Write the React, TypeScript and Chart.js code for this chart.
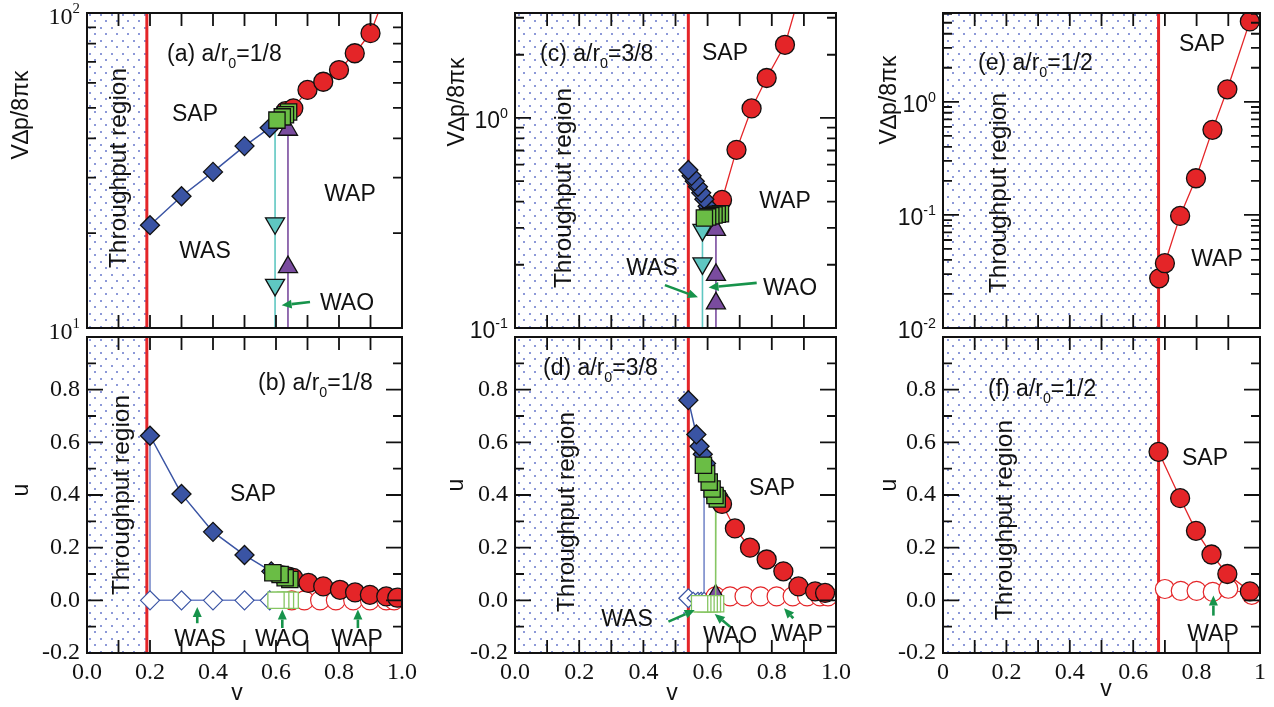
import React, { useEffect, useRef } from 'react';
import { Chart, registerables } from 'chart.js';

Chart.register(...registerables);

// ---------------- Data ----------------
// Panel (a)  a/r0 = 1/8, VΔp/8πκ (log)
const A_SAS_V = [0.2, 0.3, 0.4, 0.5, 0.58];
const A_SAS_Y = [21.2, 26.2, 31.3, 37.8, 43.2];
const A_SAO_V = [0.64, 0.63, 0.62, 0.603];
const A_SAO_Y = [48.5, 47.5, 46.8, 45.7];
const A_SAP_V = [0.63, 0.655, 0.7, 0.75, 0.8, 0.85, 0.9, 0.95];
const A_SAP_Y = [48.8, 49.8, 57.0, 60.5, 65.9, 74.5, 86.3, 117];
const A_WAS_V = [0.597, 0.597, 0.597, 0.597];
const A_WAS_Y = [45.0, 21.5, 13.7, 5];
const A_WAO_V = [0.638, 0.638, 0.638];
const A_WAO_Y = [42.6, 15.6, 5];

// Panel (b)  a/r0 = 1/8, u
const B_SAS_V = [0.2, 0.3, 0.4, 0.5, 0.585];
const B_SAS_U = [0.625, 0.404, 0.26, 0.172, 0.11];
const B_WAS_V = [0.2, 0.2, 0.3, 0.4, 0.5, 0.58];
const B_WAS_U = [0.625, 0, 0, 0, 0, 0];
const B_SAO_V = [0.644, 0.629, 0.613, 0.59];
const B_SAO_U = [0.079, 0.086, 0.098, 0.105];
const B_WAO_V = [0.645, 0.63, 0.615, 0.6];
const B_WAO_U = [0, 0, 0, 0];
const B_SAP_V = [0.62, 0.64, 0.655, 0.703, 0.75, 0.803, 0.851, 0.898, 0.95, 0.985];
const B_SAP_U = [0.095, 0.09, 0.085, 0.066, 0.053, 0.04, 0.03, 0.021, 0.015, 0.01];
const B_WAP_V = [0.65, 0.69, 0.74, 0.79, 0.845, 0.898, 0.95, 0.975];
const B_WAP_U = [0, 0, 0, 0, 0, 0, 0, 0];

// Panel (c)  a/r0 = 3/8, VΔp/8πκ (log)
const C_SAS_V = [0.6, 0.59, 0.58, 0.57, 0.56, 0.55, 0.54];
const C_SAS_Y = [0.38, 0.41, 0.44, 0.47, 0.5, 0.53, 0.565];
const C_SAO_V = [0.64, 0.63, 0.62, 0.61, 0.6, 0.59];
const C_SAO_Y = [0.35, 0.348, 0.345, 0.342, 0.338, 0.334];
const C_SAP_V = [0.62, 0.63, 0.645, 0.69, 0.737, 0.784, 0.841, 0.885];
const C_SAP_Y = [0.345, 0.35, 0.407, 0.705, 1.11, 1.55, 2.23, 3.8];
const C_WAS_V = [0.584, 0.584, 0.584];
const C_WAS_Y = [0.293, 0.203, 0.05];
const C_WAO_V = [0.626, 0.626, 0.626, 0.626];
const C_WAO_Y = [0.293, 0.179, 0.131, 0.05];

// Panel (d)  a/r0 = 3/8, u
const D_SAS_V = [0.595, 0.585, 0.575, 0.565, 0.54];
const D_SAS_U = [0.52, 0.555, 0.585, 0.63, 0.76];
const D_WAS_V = [0.54, 0.555, 0.57, 0.58, 0.589, 0.589];
const D_WAS_U = [0.008, 0.008, 0.008, 0.008, 0.008, 0.53];
const D_SAO_V = [0.63, 0.623, 0.614, 0.605, 0.597, 0.587];
const D_SAO_U = [0.385, 0.398, 0.423, 0.449, 0.481, 0.513];
const D_WAO_V = [0.626, 0.625, 0.615, 0.605, 0.595, 0.585, 0.575];
const D_WAO_U = [0.385, -0.013, -0.013, -0.013, -0.013, -0.013, -0.013];
const D_WAOT_V = [0.625];
const D_WAOT_U = [0.03];
const D_SAP_V = [0.625, 0.635, 0.645, 0.685, 0.732, 0.784, 0.836, 0.883, 0.935, 0.966];
const D_SAP_U = [0.4, 0.385, 0.366, 0.273, 0.2, 0.155, 0.11, 0.053, 0.034, 0.028];
const D_WAP_V = [0.625, 0.67, 0.715, 0.765, 0.815, 0.865, 0.91, 0.95, 0.975];
const D_WAP_U = [0.015, 0.015, 0.015, 0.015, 0.015, 0.015, 0.015, 0.015, 0.015];

// Panel (e)  a/r0 = 1/2, VΔp/8πκ (log)
const E_SAP_V = [0.682, 0.7, 0.748, 0.798, 0.85, 0.897, 0.968];
const E_SAP_Y = [0.0275, 0.0374, 0.098, 0.211, 0.565, 1.29, 5.14];

// Panel (f)  a/r0 = 1/2, u
const F_SAP_V = [0.68, 0.748, 0.798, 0.847, 0.897, 0.968];
const F_SAP_U = [0.564, 0.388, 0.264, 0.174, 0.1, 0.034];
const F_WAP_V = [0.7, 0.75, 0.8, 0.851, 0.9, 0.974];
const F_WAP_U = [0.043, 0.036, 0.036, 0.032, 0.044, 0.021];

// Throughput-region boundaries
const VC_AB = 0.19;
const VC_CD = 0.54;
const VC_EF = 0.68;

// Tick labels
const X_TICK_VALUES = [0, 0.2, 0.4, 0.6, 0.8, 1.0];
const X_TICK_LABELS_BD = ['0.0', '0.2', '0.4', '0.6', '0.8', '1.0'];
const X_TICK_LABELS_F = ['0', '0.2', '0.4', '0.6', '0.8', '1'];
const U_TICK_VALUES = [-0.2, 0, 0.2, 0.4, 0.6, 0.8];
const U_TICK_LABELS = ['-0.2', '0.0', '0.2', '0.4', '0.6', '0.8'];
const A_LOG_TICKS = [10, 100];
const A_LOG_EXP = ['1', '2'];
const C_LOG_TICKS = [0.1, 1];
const C_LOG_EXP = ['-1', '0'];
const E_LOG_TICKS = [0.01, 0.1, 1];
const E_LOG_EXP = ['-2', '-1', '0'];

// ---------------- Styles ----------------
const W = 1274;
const H = 707;
const RED = '#E42528';
const BLUE = '#3A54A4';
const GREEN = '#6ABD45';
const GREEN_OPEN = '#86C663';
const CYAN = '#5FC7C2';
const PURPLE = '#7A4C9F';
const ARROW = '#17934B';
const DOT = '#7A88D2';
const INK = '#111';
const SANS = '"Liberation Sans", Arial, sans-serif';
const SERIF = '"Liberation Serif", "Times New Roman", serif';
const TXT = 23;
const TXT_ROT = 24.5;
const TICK_FONT = 24;
const R_CIRC = 9.5;
const R_DIAM = 9.5;
const R_SQ = 11.5;
const R_TRI = 11;

type Part = { t: string; sub?: boolean; sup?: boolean };
type Txt = { parts: Part[]; dx: number; dy: number; align?: 'left' | 'center'; rot?: boolean };
type Arw = [number, number, number, number];
type PanelDef = {
  rect: [number, number, number, number];
  log: boolean;
  ymin: number;
  ymax: number;
  vc: number;
  datasets: any[];
  xLabels?: string[];
  yVals: number[];
  yLabels?: string[];
  yExp?: string[];
  logFamily?: string;
  yTitle: { text: string; x: number; y: number };
  xTitle?: { x: number; y: number };
  texts: Txt[];
  arrows: Arw[];
};

const pt = (v: number[], y: number[]) => v.map((x, i) => ({ x, y: y[i] }));

function ds(v: number[], y: number[], o: any) {
  return {
    data: pt(v, y),
    showLine: !!o.line,
    borderColor: o.line || 'rgba(0,0,0,0)',
    borderWidth: o.lw ?? 1.5,
    pointStyle: o.style || 'circle',
    pointRadius: o.radius ?? 0,
    pointHoverRadius: o.radius ?? 0,
    pointRotation: o.rot ?? 0,
    pointBackgroundColor: o.fill || 'rgba(0,0,0,0)',
    pointBorderColor: o.stroke || INK,
    pointBorderWidth: o.sw ?? 1.3,
    tension: 0,
  };
}

const redLine = (vc: number, lo: number, hi: number) =>
  ds([vc, vc], [lo, hi], { line: RED, lw: 3, radius: 0 });

const sasFilled = (v: number[], y: number[]) =>
  ds(v, y, { style: 'rectRot', radius: R_DIAM, fill: BLUE, stroke: INK, line: BLUE, lw: 1.5 });
const sasOpen = (v: number[], y: number[], r: number[]) =>
  ds(v, y, { style: 'rectRot', radius: r, fill: '#fff', stroke: BLUE, sw: 1.2, line: '#6F82C6', lw: 1.5 });
const saoFilled = (v: number[], y: number[]) =>
  ds(v, y, { style: 'rect', radius: R_SQ, fill: GREEN, stroke: INK });
const saoOpen = (v: number[], y: number[], r: number | number[]) =>
  ds(v, y, { style: 'rect', radius: r, fill: '#fff', stroke: GREEN_OPEN, sw: 1.3, line: GREEN_OPEN, lw: 1.5 });
const sapFilled = (v: number[], y: number[]) =>
  ds(v, y, { style: 'circle', radius: R_CIRC, fill: RED, stroke: INK, line: RED, lw: 1.3 });
const sapOpen = (v: number[], y: number[]) =>
  ds(v, y, { style: 'circle', radius: R_CIRC, fill: '#fff', stroke: RED, sw: 1.2, line: RED, lw: 1 });
const wasTri = (v: number[], y: number[], r: number[]) =>
  ds(v, y, { style: 'triangle', rot: 180, radius: r, fill: CYAN, stroke: INK, line: CYAN, lw: 1.6 });
const waoTri = (v: number[], y: number[], r: number[]) =>
  ds(v, y, { style: 'triangle', radius: r, fill: PURPLE, stroke: INK, line: PURPLE, lw: 1.6 });

const title = (letter: string, frac: string): Part[] => [
  { t: `(${letter}) a/r` },
  { t: '0', sub: true },
  { t: `=${frac}` },
];
const T = (s: string, dx: number, dy: number): Txt => ({ parts: [{ t: s }], dx, dy, align: 'center' });
const TR = (dx: number, dy: number): Txt => ({ parts: [{ t: 'Throughput region' }], dx, dy, align: 'center', rot: true });

const PANELS: PanelDef[] = [
  {
    rect: [87, 13, 402, 328], log: true, ymin: 10, ymax: 100, vc: VC_AB,
    datasets: [
      redLine(VC_AB, 5, 200),
      waoTri(A_WAO_V, A_WAO_Y, [R_TRI, R_TRI, 0]),
      wasTri(A_WAS_V, A_WAS_Y, [0, R_TRI, R_TRI, 0]),
      sapFilled(A_SAP_V, A_SAP_Y),
      sasFilled(A_SAS_V, A_SAS_Y),
      saoFilled(A_SAO_V, A_SAO_Y),
    ],
    yVals: A_LOG_TICKS, yExp: A_LOG_EXP, logFamily: SERIF,
    yTitle: { text: 'V\u2206p/8\u03C0\u03BA', x: 20, y: 115 },
    texts: [
      { parts: title('a', '1/8'), dx: 80, dy: 40 },
      T('SAP', 108, 100), T('WAP', 263, 180), T('WAS', 118, 237), T('WAO', 260, 289),
      TR(30, 155),
    ],
    arrows: [[0.708, 12.1, 0.618, 11.8]],
  },
  {
    rect: [87, 337, 402, 653], log: false, ymin: -0.2, ymax: 1.0, vc: VC_AB,
    datasets: [
      redLine(VC_AB, -0.5, 1.5),
      sasOpen(B_WAS_V, B_WAS_U, [0, R_DIAM, R_DIAM, R_DIAM, R_DIAM, R_DIAM]),
      sapOpen(B_WAP_V, B_WAP_U),
      saoOpen(B_WAO_V, B_WAO_U, R_SQ),
      sapFilled(B_SAP_V, B_SAP_U),
      sasFilled(B_SAS_V, B_SAS_U),
      saoFilled(B_SAO_V, B_SAO_U),
    ],
    xLabels: X_TICK_LABELS_BD,
    yVals: U_TICK_VALUES, yLabels: U_TICK_LABELS,
    yTitle: { text: 'u', x: 20, y: 490 },
    xTitle: { x: 237, y: 692 },
    texts: [
      { parts: title('b', '1/8'), dx: 171, dy: 45 },
      T('SAP', 166, 156), T('WAS', 113, 301), T('WAO', 195, 301), T('WAP', 270, 301),
      TR(33, 158),
    ],
    arrows: [[0.35, -0.087, 0.35, -0.025], [0.62, -0.105, 0.62, -0.035], [0.86, -0.105, 0.86, -0.035]],
  },
  {
    rect: [515, 13, 836, 328], log: true, ymin: 0.1, ymax: 3.16, vc: VC_CD,
    datasets: [
      redLine(VC_CD, 0.01, 10),
      waoTri(C_WAO_V, C_WAO_Y, [R_TRI, R_TRI, R_TRI, 0]),
      wasTri(C_WAS_V, C_WAS_Y, [R_TRI, R_TRI, 0]),
      sapFilled(C_SAP_V, C_SAP_Y),
      sasFilled(C_SAS_V, C_SAS_Y),
      saoFilled(C_SAO_V, C_SAO_Y),
    ],
    yVals: C_LOG_TICKS, yExp: C_LOG_EXP, logFamily: SANS,
    yTitle: { text: 'V\u2206p/8\u03C0\u03BA', x: 456, y: 102 },
    texts: [
      { parts: title('c', '3/8'), dx: 25, dy: 40 },
      T('SAP', 210, 39), T('WAP', 270, 187), T('WAS', 137, 254), T('WAO', 275, 274),
      TR(47, 175),
    ],
    arrows: [[0.467, 0.16, 0.57, 0.14], [0.753, 0.164, 0.603, 0.156]],
  },
  {
    rect: [515, 337, 836, 653], log: false, ymin: -0.2, ymax: 1.0, vc: VC_CD,
    datasets: [
      redLine(VC_CD, -0.5, 1.5),
      sasOpen(D_WAS_V, D_WAS_U, [R_DIAM, 6, 6, 6, 6, 0]),
      sapOpen(D_WAP_V, D_WAP_U),
      waoTri(D_WAOT_V, D_WAOT_U, [8]),
      saoOpen(D_WAO_V, D_WAO_U, [0, R_SQ, R_SQ, R_SQ, R_SQ, R_SQ, R_SQ]),
      sapFilled(D_SAP_V, D_SAP_U),
      sasFilled(D_SAS_V, D_SAS_U),
      saoFilled(D_SAO_V, D_SAO_U),
    ],
    xLabels: X_TICK_LABELS_BD,
    yVals: U_TICK_VALUES, yLabels: U_TICK_LABELS,
    yTitle: { text: 'u', x: 455, y: 485 },
    xTitle: { x: 672, y: 692 },
    texts: [
      { parts: title('d', '3/8'), dx: 28, dy: 30 },
      T('SAP', 257, 150), T('WAS', 112, 281), T('WAO', 215, 298), T('WAP', 282, 296),
      TR(50, 175),
    ],
    arrows: [[0.478, -0.081, 0.56, -0.037], [0.67, -0.1, 0.622, -0.052], [0.867, -0.068, 0.838, -0.03]],
  },
  {
    rect: [943, 13, 1260, 328], log: true, ymin: 0.01, ymax: 6.1, vc: VC_EF,
    datasets: [
      redLine(VC_EF, 0.001, 100),
      sapFilled(E_SAP_V, E_SAP_Y),
    ],
    yVals: E_LOG_TICKS, yExp: E_LOG_EXP, logFamily: SANS,
    yTitle: { text: 'V\u2206p/8\u03C0\u03BA', x: 888, y: 100 },
    texts: [
      { parts: title('e', '1/2'), dx: 35, dy: 49 },
      T('SAP', 259, 30), T('WAP', 274, 245),
      TR(54, 180),
    ],
    arrows: [],
  },
  {
    rect: [943, 337, 1260, 653], log: false, ymin: -0.2, ymax: 1.0, vc: VC_EF,
    datasets: [
      redLine(VC_EF, -0.5, 1.5),
      sapOpen(F_WAP_V, F_WAP_U),
      sapFilled(F_SAP_V, F_SAP_U),
    ],
    xLabels: X_TICK_LABELS_F,
    yVals: U_TICK_VALUES, yLabels: U_TICK_LABELS,
    yTitle: { text: 'u', x: 888, y: 485 },
    xTitle: { x: 1106, y: 688 },
    texts: [
      { parts: title('f', '1/2'), dx: 45, dy: 51 },
      T('SAP', 262, 120), T('WAP', 270, 296),
      TR(60, 183),
    ],
    arrows: [[0.853, -0.058, 0.853, 0.018]],
  },
];

// ---------------- Drawing helpers ----------------
function drawRich(ctx: CanvasRenderingContext2D, parts: Part[], x: number, yMid: number, size: number, family: string, align: 'left' | 'center' | 'right') {
  const small = size * 0.62;
  const widths = parts.map((p) => {
    ctx.font = `${p.sub || p.sup ? small : size}px ${family}`;
    return ctx.measureText(p.t).width;
  });
  const total = widths.reduce((a, b) => a + b, 0);
  let cx = align === 'center' ? x - total / 2 : align === 'right' ? x - total : x;
  const base = yMid + size * 0.36;
  ctx.textAlign = 'left';
  ctx.textBaseline = 'alphabetic';
  parts.forEach((p, i) => {
    ctx.font = `${p.sub || p.sup ? small : size}px ${family}`;
    const dy = p.sub ? size * 0.3 : p.sup ? -size * 0.45 : 0;
    ctx.fillText(p.t, cx, base + dy);
    cx += widths[i];
  });
}

function drawArrow(ctx: CanvasRenderingContext2D, x1: number, y1: number, x2: number, y2: number) {
  const ang = Math.atan2(y2 - y1, x2 - x1);
  const hl = 10;
  const hw = 4.5;
  const bx = x2 - hl * Math.cos(ang);
  const by = y2 - hl * Math.sin(ang);
  ctx.strokeStyle = ARROW;
  ctx.fillStyle = ARROW;
  ctx.lineWidth = 2.6;
  ctx.beginPath();
  ctx.moveTo(x1, y1);
  ctx.lineTo(bx, by);
  ctx.stroke();
  ctx.beginPath();
  ctx.moveTo(x2, y2);
  ctx.lineTo(bx + hw * Math.sin(ang), by - hw * Math.cos(ang));
  ctx.lineTo(bx - hw * Math.sin(ang), by + hw * Math.cos(ang));
  ctx.closePath();
  ctx.fill();
}

function makeDotPattern(ctx: CanvasRenderingContext2D) {
  const c = document.createElement('canvas');
  c.width = 11;
  c.height = 13;
  const g = c.getContext('2d')!;
  g.fillStyle = DOT;
  g.fillRect(1, 1, 2, 2);
  g.fillRect(6, 7, 2, 2);
  return ctx.createPattern(c, 'repeat');
}

function decor(p: PanelDef) {
  return {
    id: 'decor',
    beforeDatasetsDraw(chart: any) {
      const { ctx, chartArea: a, scales } = chart;
      const xc = scales.x.getPixelForValue(p.vc);
      ctx.save();
      ctx.globalAlpha = 0.85;
      ctx.fillStyle = makeDotPattern(ctx);
      ctx.fillRect(a.left, a.top, xc - a.left, a.bottom - a.top);
      ctx.restore();
    },
    afterDraw(chart: any) {
      const { ctx, chartArea: a, scales } = chart;
      const xs = scales.x;
      const ys = scales.y;
      ctx.save();
      ctx.strokeStyle = INK;
      ctx.fillStyle = INK;
      ctx.lineCap = 'butt';
      // frame
      ctx.lineWidth = 2;
      ctx.strokeRect(a.left, a.top, a.right - a.left, a.bottom - a.top);
      // x ticks (every 0.1)
      ctx.lineWidth = 1.8;
      ctx.beginPath();
      for (let i = 1; i < 10; i++) {
        const px = xs.getPixelForValue(i / 10);
        ctx.moveTo(px, a.bottom);
        ctx.lineTo(px, a.bottom - 13);
        ctx.moveTo(px, a.top);
        ctx.lineTo(px, a.top + 13);
      }
      // y ticks
      const yTicks: { v: number; major: boolean }[] = [];
      if (p.log) {
        const d0 = Math.floor(Math.log10(p.ymin));
        const d1 = Math.ceil(Math.log10(p.ymax));
        for (let d = d0; d <= d1; d++) {
          for (let k = 1; k < 10; k++) {
            const v = k * Math.pow(10, d);
            if (v > p.ymin * 1.001 && v < p.ymax * 0.999) yTicks.push({ v, major: k === 1 });
          }
        }
      } else {
        for (let i = -1; i < 10; i++) yTicks.push({ v: i / 10, major: i % 2 === 0 });
      }
      yTicks.forEach(({ v, major }) => {
        const py = ys.getPixelForValue(v);
        const len = major ? 16 : 9;
        ctx.moveTo(a.left, py);
        ctx.lineTo(a.left + len, py);
        ctx.moveTo(a.right, py);
        ctx.lineTo(a.right - len, py);
      });
      ctx.stroke();

      // tick labels
      if (p.xLabels) {
        ctx.font = `${TICK_FONT}px ${SERIF}`;
        ctx.textAlign = 'center';
        ctx.textBaseline = 'middle';
        X_TICK_VALUES.forEach((v, i) => {
          ctx.fillText(p.xLabels![i], xs.getPixelForValue(v), 673);
        });
      }
      if (p.yLabels) {
        ctx.font = `${TICK_FONT}px ${SERIF}`;
        ctx.textAlign = 'right';
        ctx.textBaseline = 'middle';
        p.yVals.forEach((v, i) => {
          ctx.fillText(p.yLabels![i], a.left - 7, ys.getPixelForValue(v));
        });
      }
      if (p.yExp) {
        const fam = p.logFamily || SERIF;
        const size = fam === SERIF ? TICK_FONT : 23;
        p.yVals.forEach((v, i) => {
          drawRich(ctx, [{ t: '10' }, { t: p.yExp![i], sup: true }], a.left - 7, ys.getPixelForValue(v) + 2, size, fam, 'right');
        });
      }

      // axis titles
      ctx.save();
      ctx.translate(p.yTitle.x, p.yTitle.y);
      ctx.rotate(-Math.PI / 2);
      drawRich(ctx, [{ t: p.yTitle.text }], 0, 0, TXT, SANS, 'center');
      ctx.restore();
      if (p.xTitle) drawRich(ctx, [{ t: 'v' }], p.xTitle.x, p.xTitle.y, TXT, SANS, 'center');

      // annotation texts
      p.texts.forEach((t) => {
        const x = a.left + t.dx;
        const y = a.top + t.dy;
        if (t.rot) {
          ctx.save();
          ctx.translate(x, y);
          ctx.rotate(-Math.PI / 2);
          drawRich(ctx, t.parts, 0, 0, TXT_ROT, SANS, 'center');
          ctx.restore();
        } else {
          drawRich(ctx, t.parts, x, y, TXT, SANS, t.align || 'left');
        }
      });

      // arrows
      p.arrows.forEach(([v1, y1, v2, y2]) => {
        drawArrow(ctx, xs.getPixelForValue(v1), ys.getPixelForValue(y1), xs.getPixelForValue(v2), ys.getPixelForValue(y2));
      });
      ctx.restore();
    },
  };
}

function config(p: PanelDef): any {
  const [L, Tp, R, B] = p.rect;
  const n = p.datasets.length;
  return {
    type: 'scatter',
    data: { datasets: p.datasets.map((d, i) => ({ ...d, order: n - i })) },
    options: {
      responsive: false,
      animation: false,
      events: [],
      layout: { padding: { left: L, top: Tp, right: W - R, bottom: H - B } },
      plugins: { legend: { display: false }, tooltip: { enabled: false } },
      scales: {
        x: { type: 'linear', min: 0, max: 1, display: false },
        y: { type: p.log ? 'logarithmic' : 'linear', min: p.ymin, max: p.ymax, display: false },
      },
    },
    plugins: [decor(p)],
  };
}

export default function App() {
  const refs = useRef<(HTMLCanvasElement | null)[]>([]);
  useEffect(() => {
    const charts = PANELS.map((p, i) => new Chart(refs.current[i]!, config(p)));
    return () => charts.forEach((c) => c.destroy());
  }, []);
  return (
    <div style={{ position: 'fixed', left: 0, top: 0, width: W, height: H, background: '#fff' }}>
      {PANELS.map((_, i) => (
        <canvas
          key={i}
          ref={(el) => { refs.current[i] = el; }}
          width={W}
          height={H}
          style={{ position: 'absolute', left: 0, top: 0, width: W, height: H }}
        />
      ))}
    </div>
  );
}
